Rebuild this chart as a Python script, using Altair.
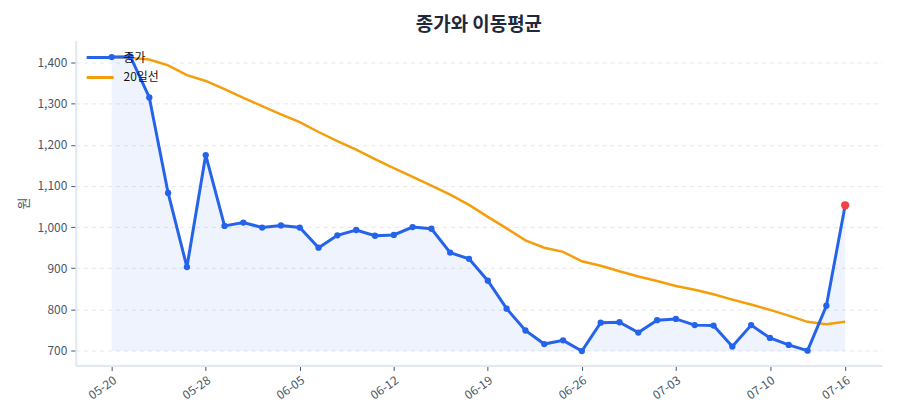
import altair as alt
import pandas as pd

FONT = "Noto Sans CJK KR"
BLUE = "#2563eb"
ORANGE = "#f59e0b"
RED = "#ef4444"

dates = [
    "05-20", "05-21", "05-22", "05-23", "05-27", "05-28",
    "05-29", "05-30", "06-02", "06-04", "06-05",
    "06-06", "06-09", "06-10", "06-11", "06-12",
    "06-13", "06-16", "06-17", "06-18", "06-19",
    "06-20", "06-23", "06-24", "06-25", "06-26",
    "06-27", "06-30", "07-01", "07-02", "07-03",
    "07-04", "07-07", "07-08", "07-09", "07-10",
    "07-11", "07-14", "07-15", "07-16",
]
close = [
    1413, 1414, 1315, 1083, 903, 1175,
    1003, 1011, 999, 1004, 999,
    950, 980, 993, 979, 981,
    1000, 996, 938, 923, 870,
    802, 749, 716, 725, 699,
    768, 769, 744, 774, 777,
    762, 761, 710, 762, 731,
    714, 700, 809, 1053,
]
ma20 = [
    1413, 1411, 1407, 1393, 1369, 1355,
    1335, 1314, 1294, 1274, 1255,
    1231, 1209, 1188, 1165, 1143,
    1122, 1101, 1079, 1054, 1025,
    997, 968, 950, 940, 917,
    906, 893, 880, 869, 857,
    848, 837, 824, 812, 799,
    785, 770, 764, 770,
]
tick_dates = ["05-20", "05-28", "06-05", "06-12", "06-19", "06-26", "07-03", "07-10", "07-16"]
y_ticks = [700, 800, 900, 1000, 1100, 1200, 1300, 1400]

frame = pd.DataFrame({"idx": range(len(dates)), "date": dates, "close": close, "ma20": ma20})
last = frame.tail(1)
baseline = min(close)
tick_idx = [dates.index(d) for d in tick_dates]
label_expr = "[" + ",".join(f"'{d}'" for d in dates) + "][datum.value]"

x_scale = alt.Scale(domain=[-1.91, len(dates) - 1 + 1.96], nice=False, zero=False)
x_axis = alt.Axis(
    values=tick_idx,
    labelExpr=label_expr,
    labelAngle=-35,
    labelAlign="right",
    labelBaseline="top",
    labelFontSize=12,
    labelColor="#475569",
    labelPadding=4,
    tickColor="#475569",
    tickSize=5,
    domainColor="#e2e8f0",
    domainWidth=2,
    grid=False,
    title=None,
)
y_scale = alt.Scale(domain=[664, 1453], nice=False, zero=False)
y_axis = alt.Axis(
    values=y_ticks,
    format=",.0f",
    labelFontSize=12,
    labelColor="#475569",
    labelPadding=4,
    tickColor="#475569",
    tickSize=5,
    domainColor="#e2e8f0",
    domainWidth=2,
    grid=True,
    gridColor="#e5e7eb",
    gridDash=[4, 4],
    title="원",
    titleFontSize=13,
    titleFontWeight="normal",
    titleColor="#475569",
    titlePadding=6,
)
color_scale = alt.Scale(domain=["종가", "20일선"], range=[BLUE, ORANGE])
legend = alt.Legend(
    title=None,
    orient="none",
    legendX=9,
    legendY=9,
    symbolType="stroke",
    symbolSize=730,
    symbolStrokeWidth=3,
    clipHeight=16,
    rowPadding=4,
    labelOffset=8,
    labelFontSize=12,
    labelColor="#111111",
    labelFont=FONT,
)
color_enc = alt.Color("series:N", scale=color_scale, legend=legend)

x_enc = alt.X("idx:Q", scale=x_scale, axis=x_axis)
base = alt.Chart(frame).encode(x=x_enc)

area = base.mark_area(color=BLUE, opacity=0.08).encode(
    y=alt.Y("close:Q", scale=y_scale, axis=y_axis),
    y2=alt.datum(baseline),
)

ma_line = base.transform_calculate(series="'20일선'").mark_line(strokeWidth=2.5).encode(
    y=alt.Y("ma20:Q", scale=y_scale, axis=y_axis),
    color=color_enc,
)

close_line = base.transform_calculate(series="'종가'").mark_line(strokeWidth=3).encode(
    y=alt.Y("close:Q", scale=y_scale, axis=y_axis),
    color=color_enc,
)

close_points = base.mark_circle(color=BLUE, size=40, opacity=1).encode(
    y=alt.Y("close:Q", scale=y_scale, axis=y_axis),
)

last_point = alt.Chart(last).mark_circle(color=RED, size=70, opacity=1).encode(
    x=x_enc,
    y=alt.Y("close:Q", scale=y_scale, axis=y_axis),
)

chart = (
    alt.layer(area, ma_line, close_line, close_points, last_point)
    .properties(
        width=809,
        height=326,
        title=alt.TitleParams(
            "종가와 이동평균",
            font=FONT,
            fontSize=19,
            fontWeight="bold",
            color="#1e293b",
            anchor="middle",
            offset=6,
        ),
        autosize=alt.AutoSizeParams(type="none"),
        padding={"left": 68, "top": 32, "right": 10, "bottom": 50},
    )
    .configure(font=FONT)
    .configure_view(stroke=None)
)

chart.save("out.html", embed_options={"renderer": "svg", "actions": False})
